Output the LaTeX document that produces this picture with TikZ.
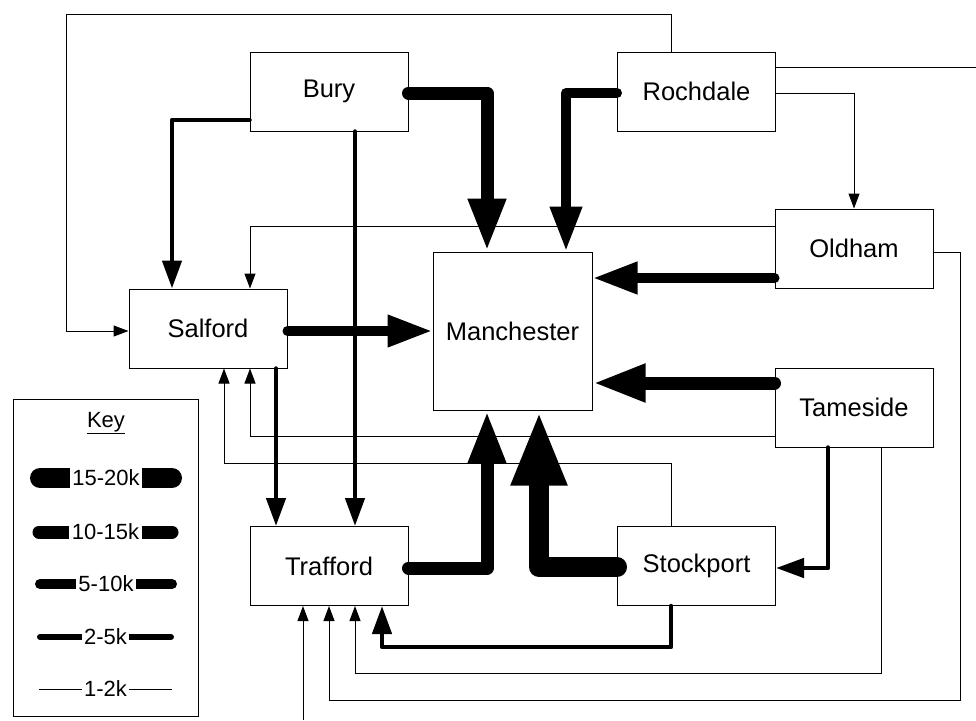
\documentclass[tikz,border=0pt]{standalone}
\usepackage{fontspec}
\setmainfont{Liberation Sans}
\usetikzlibrary{arrows.meta}
\begin{document}
\begin{tikzpicture}[x=1pt,y=-1pt,
  box/.style={draw,line width=1pt,minimum width=158pt,minimum height=79pt,inner sep=0pt,font=\fontsize{25.5}{30}\selectfont},
  keytxt/.style={fill=white,inner xsep=2.5pt,inner ysep=0pt,minimum height=22pt,font=\fontsize{22}{26}\selectfont},
  wa/.style={line width=1pt},
  wb/.style={line width=4.5pt,line cap=round,line join=round},
  wc/.style={line width=10pt,line cap=round,line join=round},
  wd/.style={line width=13pt,line cap=round,line join=round},
  we/.style={line width=20pt,line cap=round,line join=round},
  ta/.style={-{Triangle[length=15pt,width=11pt]}},
  tb/.style={-{Triangle[length=28pt,width=19pt]}},
  tc/.style={-{Triangle[length=45pt,width=30pt]}},
  td/.style={-{Triangle[length=53pt,width=35pt]}},
  te/.style={-{Triangle[length=75pt,width=51pt]}}
]
\useasboundingbox (0,0) rectangle (976,720);
\fill[white] (0,0) rectangle (976,720);

% boxes
\node[box] (bury) at (329,91.5) {Bury};
\node[box] (rochdale) at (696.5,91.5) {Rochdale};
\node[box] (oldham) at (854,248.5) {Oldham};
\node[box] (salford) at (208,328.5) {Salford};
\node[box,minimum width=159pt,minimum height=158pt] (manchester) at (512.5,331) {Manchester};
\node[box] (tameside) at (854,407.5) {Tameside};
\node[box] (trafford) at (329,566) {Trafford};
\node[box] (stockport) at (696.5,566) {Stockport};

\coordinate (offR) at (976,67);
\coordinate (offB) at (303,720);

% 1-2k connectors
\draw[wa,ta] (rochdale.north -| 671,0) -- (671,14) -- (66,14) |- (salford.west |- 0,331);
\draw[wa,ta] (rochdale.east |- 0,93) -| (oldham.north);
\draw[wa] (rochdale.east |- 0,67) -- (offR);
\draw[wa,ta] (oldham.west |- 0,226) -| (salford.north -| 250,0);
\draw[wa,ta] (oldham.east |- 0,252) -| (960,700) -| (trafford.south -| 329,0);
\draw[wa,ta] (tameside.west |- 0,436) -| (salford.south -| 250,0);
\draw[wa,ta] (tameside.south -| 881,0) |- (355,673) -- (trafford.south -| 355,0);
\draw[wa,ta] (stockport.north -| 671,0) |- (224,463) -- (salford.south -| 224,0);
\draw[wa,ta] (offB) -- (trafford.south -| 303,0);

% 2-5k connectors
\draw[wb,tb] (bury.west |- 0,120) -| (salford.north -| 172,0);
\draw[wb,tb] (bury.south -| 355,0) -- (trafford.north -| 355,0);
\draw[wb,tb] (salford.south -| 276,0) -- (trafford.north -| 276,0);
\draw[wb,tb] (tameside.south -| 828,0) |- (stockport.east |- 0,568);
\draw[wb,tb] (stockport.south -| 671,0) |- (382,647) -- (trafford.south -| 382,0);

% 5-10k connectors
\draw[wc,tc] (salford.east |- 0,331) -- (manchester.west |- 0,331);
\draw[wc,tc] (oldham.west |- 0,278) -- (manchester.east |- 0,278);
\draw[wc,tc] (rochdale.west |- 0,93) -| (manchester.north -| 566,0);

% 10-15k connectors
\draw[wd,td] (bury.east |- 0,93) -| (manchester.north -| 487,0);
\draw[wd,td] (tameside.west |- 0,383) -- (manchester.east |- 0,383);
\draw[wd,td] (trafford.east |- 0,568) -| (manchester.south -| 487,0);

% 15-20k connector
\draw[we,te] (stockport.west |- 0,567) -| (manchester.south -| 539,0);

% key
\node[draw,line width=1pt,minimum width=185pt,minimum height=317pt,inner sep=0pt] (key) at (105.5,557.5) {};
\node[font=\fontsize{22}{26}\selectfont,inner sep=0pt] (keylbl) at (106,423) {\underline{Key}};
\draw[we] (40,478) -- (172,478) node[midway,keytxt] (k1) {15-20k};
\draw[wd] (39,532) -- (172,532) node[midway,keytxt] (k2) {10-15k};
\draw[wc] (40,584) -- (172,584) node[midway,keytxt] (k3) {5-10k};
\draw[line width=6pt,line cap=round] (40,637) -- (171,637) node[midway,keytxt] (k4) {2-5k};
\draw[wa] (39,689) -- (172,689) node[midway,keytxt] (k5) {1-2k};
\end{tikzpicture}
\end{document}
